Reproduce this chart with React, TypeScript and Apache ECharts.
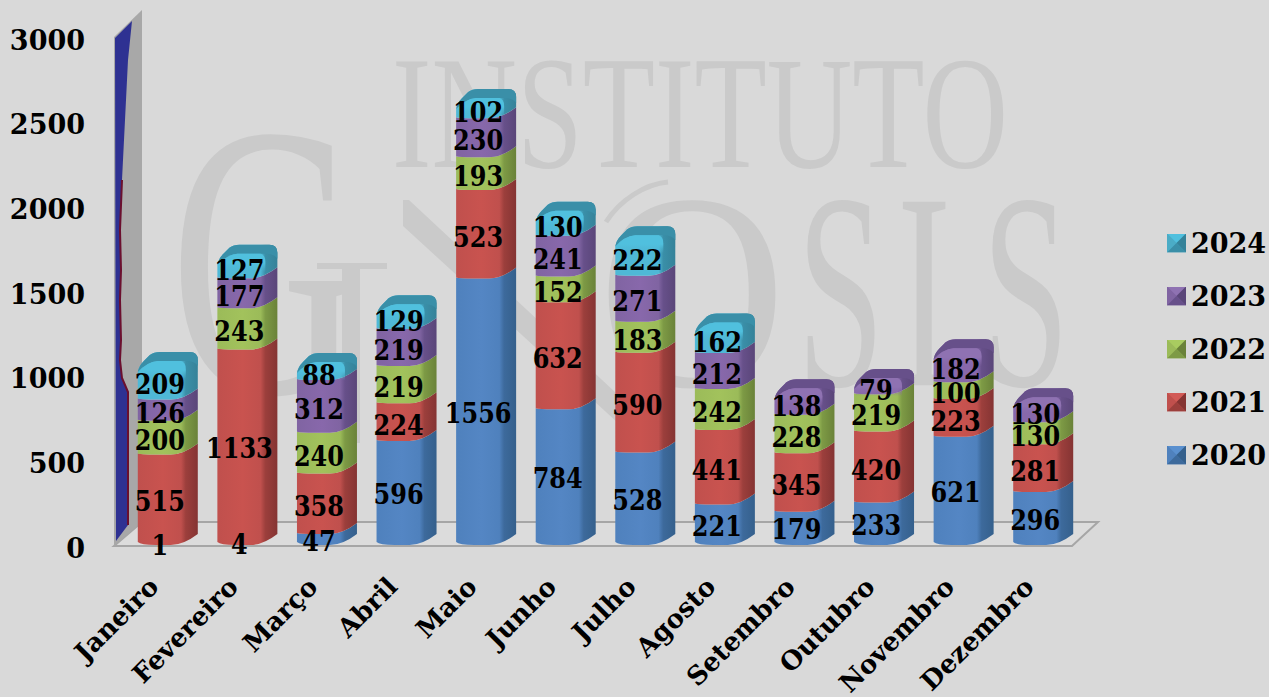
import React, { useEffect, useRef } from "react";
import * as echarts from "echarts";

const months = ["Janeiro","Fevereiro","Março","Abril","Maio","Junho","Julho","Agosto","Setembro","Outubro","Novembro","Dezembro"];
const years = ["2020","2021","2022","2023","2024"];
const v2020 = [1,4,47,596,1556,784,528,221,179,233,621,296];
const v2021 = [515,1133,358,224,523,632,590,441,345,420,223,281];
const v2022 = [200,243,240,219,193,152,183,242,228,219,100,130];
const v2023 = [126,177,312,219,230,241,271,212,138,79,182,130];
const v2024 = [209,127,88,129,102,130,222,162,null,null,null,null];
const seriesValues: (number | null)[][] = [v2020, v2021, v2022, v2023, v2024];
const colors = ["#4f81bd","#c0504d","#9bbb59","#8064a2","#4bacc6"];
const shaft = ["#5486c4","#c9534f","#a2c25c","#8868ab","#4fb8d6"];
const light = ["#5a90cf","#d25a56","#a9cc60","#8f72b2","#50c0de"];
const mid = ["#3d6a9c","#9c3f3c","#7d9a45","#67508a","#3a8fa8"];
const dark = ["#35608c","#853433","#6a8239","#5a4679","#358299"];
const yTicks = { min: 0, max: 3000, interval: 500 };

const FONT = "'DejaVu Serif'";
const WM = "#cacaca";

function legendIcon(i: number) {
  const svg = `<svg xmlns="http://www.w3.org/2000/svg" width="19" height="19"><rect width="19" height="19" fill="${colors[i]}"/><polygon points="0,0 19,0 9.5,9.5" fill="${light[i]}"/><polygon points="0,0 0,19 9.5,9.5" fill="${colors[i]}"/><polygon points="19,0 19,19 9.5,9.5" fill="${dark[i]}"/><polygon points="0,19 19,19 9.5,9.5" fill="${mid[i]}"/></svg>`;
  return "image://data:image/svg+xml;charset=utf-8," + encodeURIComponent(svg);
}

function grad(i: number, top: boolean) {
  const face = top ? shaft[i] : colors[i];
  return new echarts.graphic.LinearGradient(0, 0, 1, 0, [
    { offset: 0, color: face },
    { offset: 0.42, color: shaft[i] },
    { offset: 0.72, color: face },
    { offset: 0.8, color: mid[i] },
    { offset: 1, color: dark[i] },
  ]);
}

const BAR_LEFT = -16, BAR_RIGHT = 44, RISE = 11, LIFT = 3, HAIRLINE = 10;

function renderSegment(i: number) {
  return (_p: any, api: any) => {
    const start = api.value(1);
    const end = api.value(2);
    // values too small to show as a slice keep only their label
    if (start === 0 && end < HAIRLINE) return null;
    const [cx, yb0] = api.coord([api.value(0), start]);
    const [, yt] = api.coord([api.value(0), end]);
    const isTop = api.value(3) === 1;
    const isBottom = start < HAIRLINE;
    const yb = isBottom ? api.coord([api.value(0), 0])[1] : yb0 - LIFT;
    const ye = yt - LIFT;
    const x0 = cx + BAR_LEFT, x1 = cx + BAR_RIGHT, w = x1 - x0;
    const bottomPart =
      `L${x1} ${yb - RISE} Q${x0 + 0.76 * w} ${yb} ${x0 + 0.55 * w} ${yb} ` +
      `L${x0 + 0.3 * w} ${yb} Q${x0 + 0.05 * w} ${yb} ${x0} ${yb - (isBottom ? 3 : 1)} Z`;
    const capOutline =
      `M${x0} ${yt + 5} Q${x0 + 1} ${yt - 1} ${x0 + 6} ${yt - 6} L${x0 + 12} ${yt - 12} Q${x0 + 16} ${yt - 15} ${x0 + 22} ${yt - 15} ` +
      `L${x1 - 8} ${yt - 15} Q${x1} ${yt - 15} ${x1} ${yt - 7} `;
    const d = isTop
      ? capOutline + bottomPart
      : `M${x0} ${ye - 1} Q${x0 + 0.05 * w} ${ye} ${x0 + 0.3 * w} ${ye} L${x0 + 0.55 * w} ${ye} ` +
        `Q${x0 + 0.76 * w} ${ye} ${x1} ${ye - RISE} ` + bottomPart;
    const children: any[] = [{ type: "path", shape: { pathData: d }, style: { fill: grad(i, isTop) }, silent: true }];
    if (isTop) {
      const rim = capOutline +
        `L${x1} ${yt - 1} Q${x1 - 3} ${yt - 6} ${x1 - 12} ${yt - 6} L${x0 + 20} ${yt - 6} Q${x0 + 9} ${yt - 5} ${x0} ${yt + 5} Z`;
      children.push({ type: "path", shape: { pathData: rim }, style: { fill: mid[i] }, silent: true });
      const glow = `M${x0 + 1} ${yt + 5} Q${x0 + 9} ${yt - 5} ${x0 + 20} ${yt - 6} L${x1 - 17} ${yt - 6} Q${x1 - 12} ${yt - 5} ${x1 - 12} ${yt + 2} ` +
        `L${x1 - 12} ${yt + 12} L${x0 + 2} ${yt + 12} Z`;
      children.push({
        type: "path",
        shape: { pathData: glow },
        style: {
          fill: new echarts.graphic.LinearGradient(0, 0, 0, 1, [
            { offset: 0, color: light[i] },
            { offset: 0.5, color: light[i] },
            { offset: 1, color: shaft[i] + "00" },
          ]),
        },
        silent: true,
      });
    }
    return { type: "group", children };
  };
}

function renderLabel(_p: any, api: any) {
  const [cx, y] = api.coord([api.value(0), api.value(1)]);
  return {
    type: "text",
    x: cx + 6,
    y,
    scaleY: 1.15,
    style: {
      text: String(api.value(2)),
      x: 0,
      y: 0,
      align: "center",
      verticalAlign: "middle",
      fill: "#000",
      font: `bold 24px ${FONT}`,
    },
    silent: true,
  };
}

function letter(text: string, x: number, y: number, size: number, sx: number) {
  return {
    type: "text",
    x,
    y,
    scaleX: sx,
    silent: true,
    style: { text, x: 0, y: 0, fill: WM, align: "left", verticalAlign: "middle", font: `${size}px 'Liberation Serif'` },
  };
}

const wmFill = { fill: WM };
const graphics: any[] = [
  letter("INSTITUTO", 392, 113, 160, 0.74),
  letter("G", 170, 261, 390, 0.68),
  // N of the watermark: serif, stem and long diagonal
  { type: "rect", silent: true, shape: { x: 317, y: 263, width: 70, height: 6 }, style: wmFill },
  { type: "rect", silent: true, shape: { x: 342, y: 263, width: 18, height: 180 }, style: wmFill },
  { type: "polygon", silent: true, shape: { points: [[403, 200], [409, 200], [660, 434], [630, 434], [403, 226]] }, style: wmFill },
  letter("O", 598, 291, 280, 0.93),
  letter("S", 797, 291, 280, 0.56),
  letter("I", 897, 291, 280, 0.58),
  letter("S", 982, 291, 280, 0.56),
  { type: "bezierCurve", silent: true, shape: { x1: 606, y1: 222, cpx1: 620, cpy1: 200, cpx2: 645, cpy2: 184, x2: 668, y2: 182 }, style: { stroke: WM, lineWidth: 5, fill: "none" } },
  // floor
  { type: "polygon", silent: true, shape: { points: [[114, 546], [1072, 546], [1098, 522], [142, 522]] }, style: { fill: "#dcdcdc", stroke: "#a6a6a6", lineWidth: 2 } },
  // left wall
  { type: "polygon", silent: true, shape: { points: [[114, 37], [142, 10], [142, 522], [114, 546]] }, style: { fill: "#a8a8a8" } },
  { type: "polygon", silent: true, shape: { points: [[115, 38], [132, 21], [128, 60], [125, 120], [122, 180], [120, 230], [120, 300], [120, 360], [122, 378], [128, 392], [128, 525], [116, 541]] }, style: { fill: "#2e3192" } },
  { type: "polyline", silent: true, shape: { points: [[122, 180], [120, 230], [121, 270], [120, 300], [121, 340], [120, 360], [122, 378], [128, 392], [128, 525]] }, style: { stroke: "#6b0f2e", lineWidth: 2, fill: "none" } },
];

export default function App() {
  const ref = useRef<HTMLDivElement>(null);
  useEffect(() => {
    const chart = echarts.init(ref.current!, undefined, { renderer: "svg" });
    const totals = months.map((_, c) => seriesValues.reduce((s, a) => s + (a[c] ?? 0), 0));
    const running = months.map(() => 0);
    const labelData: number[][] = [];
    const series: any[] = seriesValues.map((vals, i) => {
      const data: any[] = [];
      vals.forEach((v, c) => {
        if (v == null) return;
        const start = running[c];
        const end = start + v;
        running[c] = end;
        data.push([c, start, end, end === totals[c] ? 1 : 0]);
        labelData.push([c, (start + end) / 2, v]);
      });
      return {
        type: "custom",
        name: years[i],
        renderItem: renderSegment(i),
        encode: { x: 0, y: [1, 2] },
        data,
        z: 3,
        silent: true,
        itemStyle: { color: colors[i] },
      };
    });
    series.push({
      type: "custom",
      name: "Valores",
      renderItem: renderLabel,
      encode: { x: 0, y: 1 },
      data: labelData,
      z: 5,
      silent: true,
    });
    chart.setOption({
      animation: false,
      backgroundColor: "#d9d9d9",
      grid: { left: 114, right: 200, top: 37, bottom: 152, containLabel: false, outerBoundsMode: "none" },
      xAxis: {
        type: "category",
        data: months,
        axisLine: { show: false },
        axisTick: { show: false },
        splitLine: { show: false },
        axisLabel: { rotate: 45, interval: 0, margin: 37, color: "#000", fontFamily: FONT, fontWeight: "bold", fontSize: 26 },
      },
      yAxis: {
        type: "value",
        min: yTicks.min,
        max: yTicks.max,
        interval: yTicks.interval,
        axisLine: { show: false },
        axisTick: { show: false },
        splitLine: { show: false },
        axisLabel: { margin: 29, color: "#000", fontFamily: FONT, fontWeight: "bold", fontSize: 27, verticalAlign: "top", lineHeight: 6, formatter: (v: number) => String(v) },
      },
      legend: {
        orient: "vertical",
        left: 1167,
        top: 227,
        padding: 0,
        itemWidth: 19,
        itemHeight: 19,
        itemGap: 21,
        selectedMode: false,
        textStyle: { color: "#000", fontFamily: FONT, fontWeight: "bold", fontSize: 27, lineHeight: 32 },
        data: [4, 3, 2, 1, 0].map((i) => ({ name: years[i], icon: legendIcon(i) })),
      },
      graphic: { elements: graphics },
      series,
    });
    return () => chart.dispose();
  }, []);
  return <div ref={ref} style={{ position: "fixed", left: 0, top: 0, width: 1269, height: 697 }} />;
}
